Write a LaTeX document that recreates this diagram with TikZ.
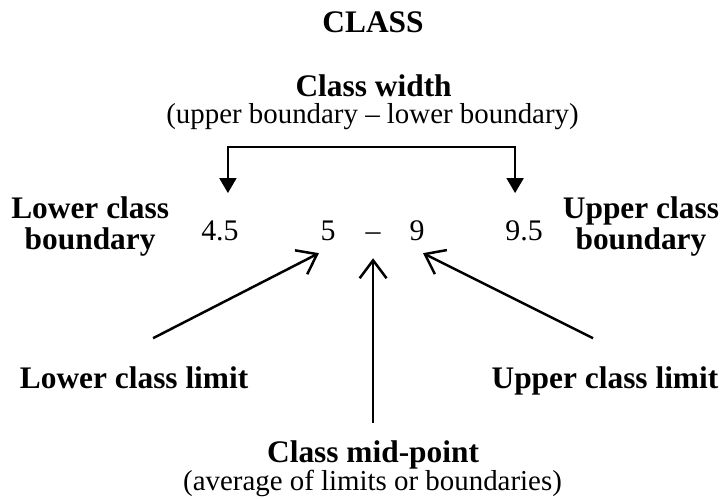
\documentclass[tikz,border=0pt]{standalone}
\usepackage{fontspec}
\setmainfont{Liberation Serif}
\usepackage{tikz}
\usetikzlibrary{arrows.meta,positioning}

\begin{document}
\begin{tikzpicture}[
  ttl/.style={font=\fontsize{31.5}{32}\selectfont\bfseries,inner sep=0pt,anchor=base},
  sub/.style={font=\fontsize{29}{30}\selectfont,inner sep=0pt,anchor=base},
  num/.style={font=\fontsize{30}{31}\selectfont,inner sep=0pt,anchor=base},
  side/.style={font=\fontsize{31.5}{32}\selectfont\bfseries,align=center,inner sep=0pt},
  brk/.style={{Triangle[length=15pt,width=17pt]}-{Triangle[length=15pt,width=17pt]},line width=2pt},
  lim/.style={-{Straight Barb[length=18pt,width=27pt]},line width=2.5pt}
]
\useasboundingbox (0,0) rectangle (25.61,-17.60);

% ---- TITLE ----
\node[ttl] (class) at (13.16,-1.13) {CLASS};

% ---- CLASS WIDTH ----
\node[ttl] (width) at (13.18,-3.39) {Class width};
\node[sub] (diff)  at (13.14,-4.37) {(upper boundary – lower boundary)};

% ---- BOUNDARIES AND LIMITS ----
\node[side] (lobdry) at (3.18,-7.99)  {Lower class\\boundary};
\node[side] (upbdry) at (22.61,-7.99) {Upper class\\boundary};
\node[num]  (lob)    at (7.76,-8.47)  {4.5};
\node[num]  (five)   at (11.57,-8.47) {5};
\node[num]  (dash)   at (13.16,-8.47) {–};
\node[num]  (nine)   at (14.71,-8.47) {9};
\node[num]  (hib)    at (18.49,-8.47) {9.5};

% ---- LABELS BELOW ----
\node[ttl] (lolim)  at (4.73,-13.69)  {Lower class limit};
\node[ttl] (uplim)  at (21.34,-13.69) {Upper class limit};
\node[ttl] (midttl) at (13.16,-16.30) {Class mid-point};
\node[sub] (midsub) at (13.14,-17.29) {(average of limits or boundaries)};

% ---- BRACKET ----
\draw[brk] ([shift={(0.28,1.66)}]lob.base) |- ([yshift=-0.81cm]diff.base)
  -| ([shift={(-0.32,1.66)}]hib.base);

% ---- ARROWS ----
\draw[lim] ([shift={(0.67,1.76)}]lolim.base) -- ([shift={(-0.32,-0.46)}]five.base);
\draw[lim] ([yshift=1.38cm]midttl.base) -- ([yshift=-0.64cm]dash.base);
\draw[lim] ([shift={(-0.42,1.76)}]uplim.base) -- ([shift={(0.21,-0.46)}]nine.base);

\end{tikzpicture}
\end{document}
